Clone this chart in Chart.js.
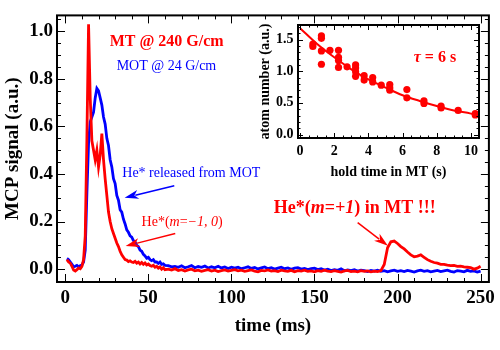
<!DOCTYPE html>
<html lang="en">
<head>
<meta charset="UTF-8">
<title>MCP signal - MT / MOT</title>
<script src="https://cdn.jsdelivr.net/npm/chart.js"></script>
<style>
  body { margin: 0; background: #fff; }
  .wrap { position: relative; width: 500px; height: 350px; }
  #mainChart { position: absolute; left: 0; top: 0; }
  #insetChart { position: absolute; left: 250px; top: 5px; }
</style>
</head>
<body>
<div class="wrap">
  <canvas id="mainChart" width="500" height="350"></canvas>
  <canvas id="insetChart" width="245" height="190"></canvas>
</div>
<script>
// --- main trace data (time in ms) ---
const timeMs = [
  1,2,3,4,5,6,7,8,9,10,
  11,12,13,14,15,16,17,18,19,20,
  21,22,23,24,25,26,27,28,29,30,
  31,32,33,34,35,36,37,38,39,40,
  41,42,43,44,45,46,47,48,49,50,
  51,52,53,54,55,56,57,58,59,60,
  62,64,66,68,70,72,74,76,78,80,
  82,84,86,88,90,92,94,96,98,100,
  102,104,106,108,110,112,114,116,118,120,
  122,124,126,128,130,132,134,136,138,140,
  142,144,146,148,150,152,154,156,158,160,
  162,164,166,168,170,172,174,176,178,180,
  182,184,186,188,190,192,194,196,198,200,
  202,204,206,208,210,212,214,216,218,220,
  222,224,226,228,230,232,234,236,238,240,
  242,244,246,248,250
];
const mtSignal = [
  0.04,0.03,0.025,0.012,-0.004,-0.008,-0.002,0.005,0.002,0.012,
  0.04,0.14,0.55,1.03,0.72,0.54,0.50,0.46,0.50,0.43,
  0.48,0.57,0.46,0.38,0.31,0.24,0.20,0.17,0.15,0.13,
  0.11,0.095,0.075,0.06,0.05,0.04,0.038,0.032,0.035,0.03,
  0.028,0.033,0.025,0.03,0.022,0.028,0.02,0.026,0.018,0.022,
  0.015,0.012,0.016,0.008,0.012,0.004,0.009,0.0,0.006,-0.002,
  0.0,-0.004,0.002,-0.006,-0.002,-0.008,-0.003,0.0,-0.007,-0.004,
  -0.009,-0.005,-0.002,-0.008,-0.004,-0.01,-0.006,-0.003,-0.008,-0.005,
  -0.002,-0.007,-0.004,-0.009,-0.006,-0.003,-0.008,-0.011,-0.005,-0.007,
  -0.003,-0.008,-0.006,-0.01,-0.004,-0.007,-0.009,-0.005,-0.011,-0.006,
  -0.008,-0.004,-0.009,-0.007,-0.011,-0.006,-0.009,-0.004,-0.008,-0.01,
  -0.006,-0.009,-0.012,-0.007,-0.005,-0.01,-0.008,-0.011,-0.006,-0.009,
  -0.007,-0.011,-0.008,-0.01,-0.006,0.02,0.09,0.115,0.118,0.108,
  0.095,0.085,0.072,0.06,0.052,0.055,0.06,0.05,0.04,0.033,
  0.028,0.025,0.02,0.02,0.017,0.015,0.016,0.012,0.013,0.01,
  0.008,0.006,0.0,0.004,0.012
];
const motSignal = [
  0.045,0.04,0.03,0.02,0.01,0.012,0.016,0.01,0.014,0.018,
  0.03,0.08,0.32,0.53,0.62,0.64,0.66,0.72,0.76,0.75,
  0.72,0.69,0.64,0.61,0.55,0.52,0.46,0.43,0.38,0.36,
  0.31,0.29,0.25,0.24,0.21,0.19,0.165,0.155,0.14,0.135,
  0.12,0.115,0.10,0.095,0.08,0.075,0.062,0.056,0.046,0.05,
  0.04,0.036,0.04,0.03,0.03,0.024,0.03,0.02,0.022,0.016,
  0.015,0.01,0.012,0.008,0.014,0.006,0.01,0.015,0.006,0.011,
  0.008,0.013,0.005,0.01,0.006,0.012,0.005,0.009,0.003,0.008,
  0.004,0.008,0.002,0.006,0.01,0.003,0.007,0.001,0.005,0.009,
  0.002,0.006,0.0,0.004,0.008,0.002,0.005,-0.001,0.004,0.006,
  0.0,0.003,-0.002,0.002,0.004,-0.002,0.002,-0.004,0.0,-0.006,
  -0.002,-0.005,0.001,-0.007,-0.003,-0.006,-0.002,-0.008,-0.004,-0.006,
  -0.01,-0.005,-0.008,-0.004,-0.009,-0.006,-0.011,-0.007,-0.004,-0.009,
  -0.006,-0.01,-0.005,-0.008,-0.012,-0.007,-0.004,-0.009,-0.006,-0.011,
  -0.008,-0.005,-0.01,-0.007,-0.004,-0.009,-0.012,-0.006,-0.008,-0.011,
  -0.005,-0.009,-0.007,-0.012,-0.008
];

// --- inset: atom number vs hold time (s) ---
const holdTime = [0.75,0.75, 1.25,1.25,1.25,1.25, 1.75, 2.25,2.25,2.25,2.25, 2.75,
  3.25,3.25,3.25,3.25, 3.75,3.75, 4.25,4.25, 4.75, 5.25,5.25,5.25,
  6.25,6.25, 7.25,7.25, 8.25,8.25, 9.25, 10.25,10.25];
const atomNumber = [1.43,1.39, 1.56,1.52,1.32,1.11, 1.33, 1.33,1.22,1.17,1.06, 1.07,
  1.10,1.05,0.99,0.92, 0.93,0.86, 0.90,0.83, 0.78, 0.79,0.74,0.70,
  0.71,0.58, 0.53,0.49, 0.45,0.42, 0.38, 0.33,0.31];
const fitTime = [0,1,2,3,4,5,6,7,8,9,10,10.3];
const fitValue = [1.68,1.43,1.22,1.03,0.87,0.74,0.62,0.53,0.45,0.38,0.33,0.31];

// tick values
const xMajorTicks = [0,50,100,150,200,250];
const xMinorTicks = [0,10,20,30,40,50,60,70,80,90,100,110,120,130,140,150,160,170,180,190,200,210,220,230,240,250];
const yMajorTicks = [0,0.2,0.4,0.6,0.8,1.0];
const yMinorTicks = [0,0.05,0.1,0.15,0.2,0.25,0.3,0.35,0.4,0.45,0.5,0.55,0.6,0.65,0.7,0.75,0.8,0.85,0.9,0.95,1.0,1.05];
const insetXMajor = [0,2,4,6,8,10];
const insetXMinor = [0,0.5,1,1.5,2,2.5,3,3.5,4,4.5,5,5.5,6,6.5,7,7.5,8,8.5,9,9.5,10];
const insetYMajor = [0,0.5,1.0,1.5];
const insetYMinor = [0,0.1,0.2,0.3,0.4,0.5,0.6,0.7,0.8,0.9,1.0,1.1,1.2,1.3,1.4,1.5,1.6,1.7];

const RED = '#ff0000';
const BLUE = '#0000ff';
const serif = '"Liberation Serif", "Times New Roman", serif';
Chart.defaults.font.family = serif;
Chart.defaults.color = '#000';

function drawRich(ctx, x, y, parts, size, color) {
  let cx = x;
  ctx.fillStyle = color;
  ctx.textAlign = 'left';
  ctx.textBaseline = 'middle';
  for (const [txt, style] of parts) {
    ctx.font = style + ' ' + size + 'px ' + serif;
    ctx.fillText(txt, cx, y);
    cx += ctx.measureText(txt).width;
  }
}

function drawArrow(ctx, x1, y1, x2, y2, color) {
  const a = Math.atan2(y2 - y1, x2 - x1);
  const hl = 14, hw = 4.5;
  const bx = x2 - hl * Math.cos(a), by = y2 - hl * Math.sin(a);
  ctx.strokeStyle = color;
  ctx.lineWidth = 1.5;
  ctx.beginPath();
  ctx.moveTo(x1, y1);
  ctx.lineTo(bx + 3 * Math.cos(a), by + 3 * Math.sin(a));
  ctx.stroke();
  ctx.fillStyle = color;
  ctx.beginPath();
  ctx.moveTo(x2, y2);
  ctx.lineTo(bx + hw * Math.sin(a), by - hw * Math.cos(a));
  ctx.lineTo(bx + 4 * Math.cos(a), by + 4 * Math.sin(a));
  ctx.lineTo(bx - hw * Math.sin(a), by + hw * Math.cos(a));
  ctx.closePath();
  ctx.fill();
}

// frame with inward ticks on all four sides
function drawFrame(chart, t) {
  const {ctx, chartArea: a, scales: {x, y}} = chart;
  ctx.save();
  ctx.strokeStyle = '#000';
  ctx.lineWidth = 1;
  ctx.beginPath();
  for (const [vals, len] of [[t.xMinor, t.minor], [t.xMajor, t.major]]) {
    for (const v of vals) {
      const px = Math.round(x.getPixelForValue(v)) + 0.5;
      ctx.moveTo(px, a.bottom); ctx.lineTo(px, a.bottom - len);
      ctx.moveTo(px, a.top); ctx.lineTo(px, a.top + len);
    }
  }
  for (const [vals, len] of [[t.yMinor, t.minor], [t.yMajor, t.major]]) {
    for (const v of vals) {
      const py = Math.round(y.getPixelForValue(v)) + 0.5;
      ctx.moveTo(a.left, py); ctx.lineTo(a.left + len, py);
      ctx.moveTo(a.right, py); ctx.lineTo(a.right - len, py);
    }
  }
  ctx.stroke();
  ctx.lineWidth = 2;
  ctx.strokeRect(a.left, a.top, a.right - a.left, a.bottom - a.top);
  ctx.restore();
}

// annotations in data coordinates
const mainNotes = [
  {at: [26.7, 0.955], size: 16, color: RED, parts: [['MT @ 240 G/cm', 'bold']]},
  {at: [30.9, 0.853], size: 14, color: BLUE, parts: [['MOT @ 24 G/cm', 'normal']]},
  {at: [34.3, 0.403], size: 14, color: BLUE, parts: [['He* released from MOT', 'normal']]},
  {at: [45.9, 0.197], size: 14, color: RED, parts: [['He*(', 'normal'], ['m', 'italic'], ['=', 'normal'], ['\u22121, 0', 'italic'], [')', 'normal']]},
  {at: [125.5, 0.254], size: 18, color: RED, parts: [['He*(', 'bold'], ['m', 'italic bold'], ['=', 'bold'], ['+1', 'italic bold'], [') in MT !!!', 'bold']]}
];
const mainArrows = [
  {from: [65.6, 0.351], to: [35.7, 0.300], color: BLUE},
  {from: [66.2, 0.150], to: [36.3, 0.097], color: RED},
  {from: [176, 0.196], to: [194.2, 0.098], color: RED}
];

const mainDecor = {
  id: 'mainDecor',
  afterDraw(chart) {
    drawFrame(chart, {xMinor: xMinorTicks, xMajor: xMajorTicks, yMinor: yMinorTicks, yMajor: yMajorTicks, minor: 4, major: 8});
    const {ctx, scales: {x, y}} = chart;
    ctx.save();
    for (const n of mainNotes) {
      drawRich(ctx, x.getPixelForValue(n.at[0]), y.getPixelForValue(n.at[1]), n.parts, n.size, n.color);
    }
    for (const a of mainArrows) {
      drawArrow(ctx, x.getPixelForValue(a.from[0]), y.getPixelForValue(a.from[1]),
        x.getPixelForValue(a.to[0]), y.getPixelForValue(a.to[1]), a.color);
    }
    ctx.restore();
  }
};

const insetDecor = {
  id: 'insetDecor',
  afterDraw(chart) {
    drawFrame(chart, {xMinor: insetXMinor, xMajor: insetXMajor, yMinor: insetYMinor, yMajor: insetYMajor, minor: 2.5, major: 5});
    const {ctx, scales: {x, y}} = chart;
    ctx.save();
    drawRich(ctx, x.getPixelForValue(6.65), y.getPixelForValue(1.21), [['\u03c4', 'italic bold'], [' = 6 s', 'bold']], 16, RED);
    ctx.restore();
  }
};

const tickFont = {family: serif, size: 19, weight: 'bold'};
const pts = vals => timeMs.map((t, i) => ({x: t, y: vals[i]}));

new Chart(document.getElementById('mainChart'), {
  type: 'line',
  data: {
    datasets: [
      {label: 'MT @ 240 G/cm', data: pts(mtSignal), borderColor: RED, borderWidth: 2.8, pointRadius: 0, tension: 0},
      {label: 'MOT @ 24 G/cm', data: pts(motSignal), borderColor: BLUE, borderWidth: 2.8, pointRadius: 0, tension: 0}
    ]
  },
  options: {
    responsive: false,
    animation: false,
    devicePixelRatio: 1,
    layout: {padding: {left: 0, right: 8, top: 13, bottom: 0}},
    plugins: {legend: {display: false}, tooltip: {enabled: false}},
    scales: {
      x: {
        type: 'linear', min: -5, max: 255,
        afterFit: s => { s.height = 68; },
        grid: {display: false, drawTicks: false},
        border: {display: false},
        ticks: {stepSize: 50, includeBounds: false, padding: 5, maxRotation: 0, font: tickFont, color: '#000'},
        title: {display: true, text: 'time (ms)', color: '#000', font: {family: serif, size: 19, weight: 'bold', lineHeight: 1}, padding: {top: 0, bottom: 14.5}}
      },
      y: {
        min: -0.054, max: 1.067,
        afterFit: s => { s.width = 57; },
        grid: {display: false, drawTicks: false},
        border: {display: false},
        ticks: {stepSize: 0.2, includeBounds: false, padding: 4, font: tickFont, color: '#000', callback: v => v.toFixed(1)},
        title: {display: true, text: 'MCP signal (a.u.)', color: '#000', font: {family: serif, size: 19, weight: 'bold', lineHeight: 1}, padding: {top: 4, bottom: 0}}
      }
    }
  },
  plugins: [mainDecor]
});

const insetTickFont = {family: serif, size: 14, weight: 'bold'};
new Chart(document.getElementById('insetChart'), {
  type: 'scatter',
  data: {
    datasets: [
      {label: 'data', data: holdTime.map((t, i) => ({x: t, y: atomNumber[i]})), backgroundColor: RED, borderWidth: 0, pointRadius: 3.6},
      {label: 'fit', data: fitTime.map((t, i) => ({x: t, y: fitValue[i]})), showLine: true, borderColor: RED, borderWidth: 2, pointRadius: 0, cubicInterpolationMode: 'monotone'}
    ]
  },
  options: {
    responsive: false,
    animation: false,
    devicePixelRatio: 1,
    layout: {padding: {left: 0, right: 16, top: 20, bottom: 0}},
    plugins: {legend: {display: false}, tooltip: {enabled: false}},
    scales: {
      x: {
        type: 'linear', min: -0.12, max: 10.47,
        afterFit: s => { s.height = 57; },
        grid: {display: false, drawTicks: false},
        border: {display: false},
        ticks: {stepSize: 2, includeBounds: false, padding: 4.5, maxRotation: 0, font: insetTickFont, color: '#000'},
        title: {display: true, text: 'hold time in MT (s)', color: '#000', font: {family: serif, size: 14, weight: 'bold', lineHeight: 1}, padding: {top: 0, bottom: 16}}
      },
      y: {
        min: -0.055, max: 1.73,
        afterFit: s => { s.width = 48; },
        grid: {display: false, drawTicks: false},
        border: {display: false},
        ticks: {stepSize: 0.5, includeBounds: false, padding: 4.5, font: insetTickFont, color: '#000', callback: v => v.toFixed(1)},
        title: {display: true, text: 'atom number (a.u.)', color: '#000', font: {family: serif, size: 14, weight: 'bold', lineHeight: 1}, padding: {top: 8, bottom: 0}}
      }
    }
  },
  plugins: [insetDecor]
});
</script>
</body>
</html>
